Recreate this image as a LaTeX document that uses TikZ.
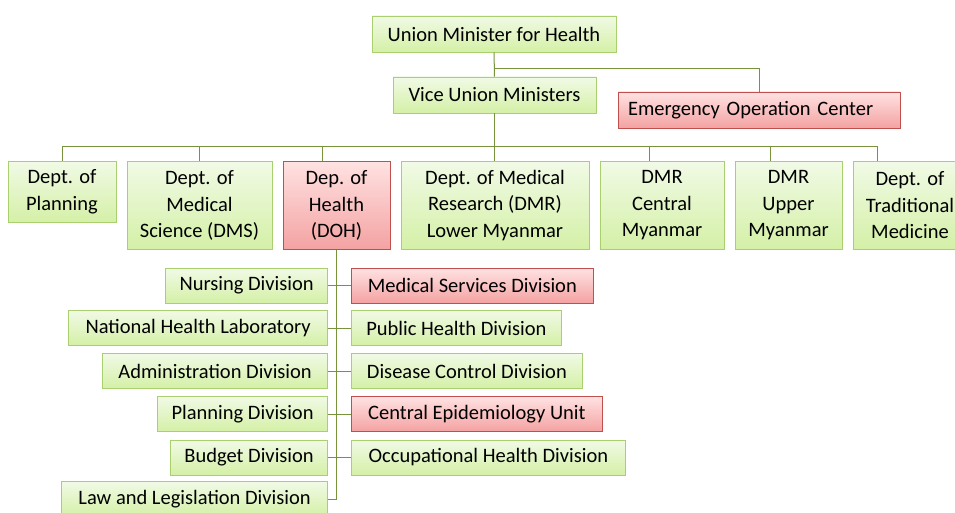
\documentclass[tikz,border=0pt]{standalone}
\usepackage{fontspec}
\setmainfont{Carlito}
\definecolor{linkgreen}{HTML}{77933C}
\definecolor{greenedge}{HTML}{A9CF6E}
\definecolor{greentop}{HTML}{F1FAE6}
\definecolor{greenbot}{HTML}{D4F0A6}
\definecolor{rededge}{HTML}{C0504D}
\definecolor{redtop}{HTML}{FFE2E2}
\definecolor{redbot}{HTML}{F4A2A2}
\begin{document}
\begin{tikzpicture}[x=1pt, y=-1pt,
    unit/.style={draw=greenedge, line width=0.8pt, top color=greentop, bottom color=greenbot,
        font=\fontsize{20.5pt}{26.5pt}\selectfont, align=center, inner sep=0pt},
    hot/.style={unit, draw=rededge, top color=redtop, bottom color=redbot},
    link/.style={draw=linkgreen, line width=1pt}]
    \useasboundingbox (0,0) rectangle (955,513);
    % Ministers
    \node[unit, minimum width=244pt, minimum height=36pt] (umh) at (494,34) {Union Minister for Health};
    \node[unit, minimum width=203pt, minimum height=36pt] (vum) at (494.5,95) {Vice Union Ministers};
    \node[hot, inner xsep=10pt, text width=262pt, align=left, minimum height=36pt] (eoc) at (759,110) {Emergency Operation Center};
    % Departments
    \node[unit, anchor=north, minimum width=108pt, minimum height=61pt] (plan) at (62,161) {Dept. of\\Planning};
    \node[unit, anchor=north, minimum width=145pt, minimum height=88pt] (dms) at (199.5,161) {Dept. of\\Medical\\Science (DMS)};
    \node[hot, anchor=north, minimum width=107pt, minimum height=88pt] (doh) at (336.5,161) {Dep. of\\Health\\(DOH)};
    \node[unit, anchor=north, minimum width=188pt, minimum height=88pt] (dmrl) at (495,161) {Dept. of Medical\\Research (DMR)\\Lower Myanmar};
    \node[unit, anchor=north, minimum width=124pt, minimum height=88pt] (dmrc) at (662,161) {DMR\\Central\\Myanmar};
    \node[unit, anchor=north, minimum width=107pt, minimum height=88pt] (dmru) at (788.5,161) {DMR\\Upper\\Myanmar};
    \node[unit, anchor=north, minimum width=114pt, minimum height=88pt] (dtm) at (910,161) {Dept. of\\Traditional\\Medicine};
    % Divisions of DOH, left and right of the trunk
    \foreach \n/\w/\y/\t in {nurs/162/285.5/Nursing Division, nhl/259/328/National Health Laboratory,
        adm/225/371/Administration Division, pla/170/414/Planning Division,
        bud/157/457.5/Budget Division, law/266/499/Law and Legislation Division}
        \node[unit, anchor=east, minimum width=\w pt, minimum height=35pt] (\n) at (328,\y) {\t};
    \node[hot, anchor=west, minimum width=242pt, minimum height=35pt] (msd) at (351,285.5) {Medical Services Division};
    \node[unit, anchor=west, minimum width=210pt, minimum height=35pt] (phd) at (351,328) {Public Health Division};
    \node[unit, anchor=west, minimum width=231pt, minimum height=35pt] (dcd) at (351,371) {Disease Control Division};
    \node[hot, anchor=west, minimum width=251pt, minimum height=35pt] (ceu) at (351,414) {Central Epidemiology Unit};
    \node[unit, anchor=west, minimum width=274pt, minimum height=35pt] (ohd) at (351,457.5) {Occupational Health Division};
    % Connectors
    \draw[link] (umh) -- (vum);
    \draw[link] (umh.south) ++(0,16) -| (eoc.north);
    \draw[link] (vum.south) -- ++(0,33) coordinate (bus);
    \foreach \d/\dx in {plan/0, dms/0, doh/-14.5, dmrl/-1, dmrc/-13, dmru/-18.5, dtm/-33}
        \draw[link] ([xshift=\dx pt]\d.north) |- (bus);
    \draw[link] (doh.south) |- (law.east);
    \draw[link] (nurs) -- (msd);
    \draw[link] (nhl) -- (phd);
    \draw[link] (adm) -- (dcd);
    \draw[link] (pla) -- (ceu);
    \draw[link] (bud) -- (ohd);
\end{tikzpicture}
\end{document}
